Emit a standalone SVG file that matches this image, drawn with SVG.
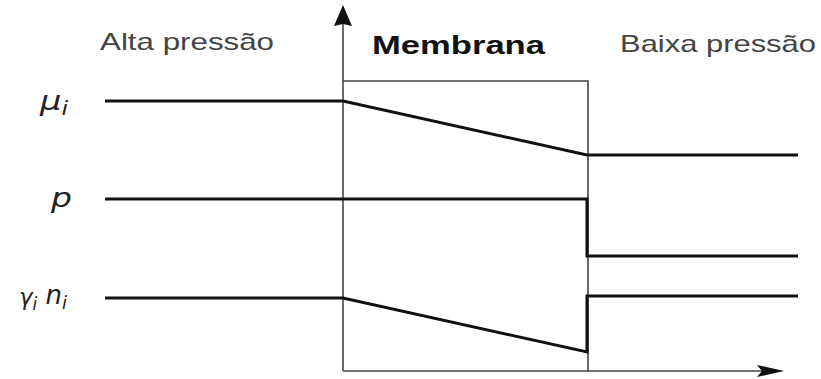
<svg xmlns="http://www.w3.org/2000/svg" width="821" height="379" viewBox="0 0 821 379">
  <style>
    .axis { fill: none; stroke: #444; stroke-width: 1.6; }
    .curve { fill: none; stroke: #111; stroke-width: 3; stroke-linejoin: miter; }
    .head { fill: #111; }
    .title { font-family: "Liberation Sans", Arial, sans-serif; font-size: 24px; fill: #444; }
    .bold { font-family: "Liberation Sans", Arial, sans-serif; font-size: 25px; font-weight: bold; fill: #111; }
    .sym { font-family: "DejaVu Sans", "Liberation Sans", sans-serif; font-style: italic; fill: #222; }
  </style>
  <rect width="821" height="379" fill="#fff"/>

  <!-- axes and membrane box -->
  <g id="axes">
    <path class="axis" d="M343 371 V22"/>
    <path class="axis" d="M343 371 H762"/>
    <path class="axis" d="M343 81 H588 V371"/>
    <path class="head" d="M343 5 L352 26 L343 24 L334 26 Z"/>
    <path class="head" d="M784 371 L757 365 L762 371 L757 377 Z"/>
  </g>

  <!-- region labels -->
  <g id="labels">
    <text class="title" x="100" y="50" textLength="174" lengthAdjust="spacingAndGlyphs">Alta pressão</text>
    <text class="bold" x="372" y="54" textLength="173" lengthAdjust="spacingAndGlyphs">Membrana</text>
    <text class="title" x="620" y="52" textLength="196" lengthAdjust="spacingAndGlyphs">Baixa pressão</text>
  </g>

  <!-- profile labels -->
  <g id="symbols">
    <text class="sym" x="40" y="110" font-size="27" textLength="28" lengthAdjust="spacingAndGlyphs">μ<tspan font-size="19" dy="5">i</tspan></text>
    <text class="sym" x="51" y="207" font-size="26" textLength="21" lengthAdjust="spacingAndGlyphs">p</text>
    <text class="sym" x="19" y="305" font-size="23" textLength="48" lengthAdjust="spacingAndGlyphs">γ<tspan font-size="17" dy="5">i</tspan><tspan font-size="26" dy="-6"> n</tspan><tspan font-size="18" dy="5">i</tspan></text>
  </g>

  <!-- profiles across the membrane -->
  <g id="connectors">
    <path id="mu" class="curve" d="M105 101 H343 L587 155 H798"/>
    <path id="pressure" class="curve" d="M105 199 H587 V256 H798"/>
    <path id="activity" class="curve" d="M105 298 H343 L587 352 V296 H798"/>
  </g>
</svg>
